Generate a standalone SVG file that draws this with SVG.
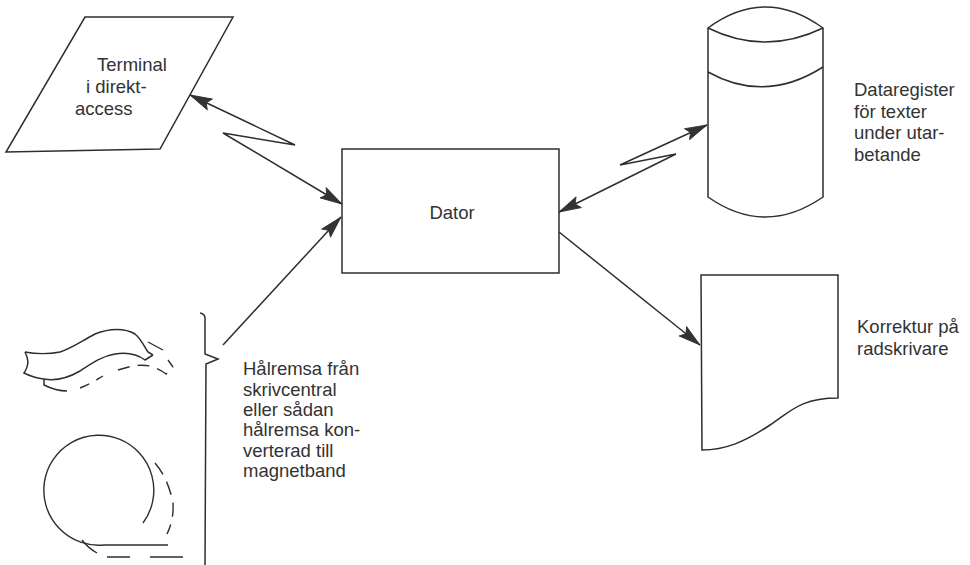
<svg xmlns="http://www.w3.org/2000/svg" width="970" height="565" viewBox="0 0 970 565">
<style>
.s{fill:none;stroke:#2e2e2e;stroke-width:1.5;stroke-linejoin:miter}
.node{fill:#fff;stroke:#2e2e2e;stroke-width:1.5}
.t{font-family:"Liberation Sans",Arial,sans-serif;font-size:18.5px;fill:#333}
.c{fill:none;stroke:#2e2e2e;stroke-width:1.4}
</style>
<defs>
<marker id="ah" markerUnits="userSpaceOnUse" markerWidth="26" markerHeight="14" refX="23" refY="7" orient="auto-start-reverse">
<path d="M1,1 L23,7 L1,13 L5,7 z" fill="#333" stroke="#2e2e2e" stroke-width="0.8"/>
</marker>
</defs>
<rect width="970" height="565" fill="#fff"/>

<g id="terminal">
<polygon class="node" points="85,17 233,17 160,149 6,152"/>
<text class="t" x="97" y="71">Terminal</text>
<text class="t" x="86" y="93">i direkt-</text>
<text class="t" x="75" y="115">access</text>
</g>

<g id="dator">
<rect class="node" x="342" y="149" width="217" height="124"/>
<text class="t" x="452" y="219" text-anchor="middle">Dator</text>
</g>

<g id="dataregister">
<path class="node" d="M708,28 Q765,-14 823,28 L823,197 Q765,237 708,197 Z"/>
<path class="s" d="M708,28 Q765,56 823,28"/>
<path class="s" d="M708,72 Q765,104 823,67"/>
<text class="t" x="854" y="96">Dataregister</text>
<text class="t" x="854" y="117.5">för texter</text>
<text class="t" x="854" y="139">under utar-</text>
<text class="t" x="854" y="160.5">betande</text>
</g>

<g id="korrektur">
<path class="node" d="M701,275 L838,275 L838,398 C800,398 790,412 770,425 C745,442 725,450 702,450 Z"/>
<text class="t" x="857" y="333">Korrektur på</text>
<text class="t" x="857" y="355">radskrivare</text>
</g>

<g id="halremsa">
<path class="s" d="M25,352 C35,354 50,354 60,352 C72,348 80,342 95,334 C110,328 125,328 135,334 C142,340 145,348 148,352 L153,355"/>
<path class="s" d="M25,352 C28,358 30,364 24,373 C30,376 34,378 44,379 C55,381 68,378 80,371 C92,363 102,356 115,354 C127,352 137,354 145,360 L153,355"/>
<path class="s" d="M44,379 L44,385 C52,389 60,391 67,391"/>
<path class="c" stroke-dasharray="10 8" d="M80,388 C90,384 96,380 103,376"/>
<path class="c" stroke-dasharray="12 8" d="M118,370 C130,366 140,364 150,366 C157,368 162,371 166,374 L173,367"/>
<path class="c" d="M148,342 L163,350"/>
<path class="c" d="M168,360 L173,367"/>
<path class="c" d="M143,523 A55,55 0 1 0 104,545 L168,545"/>
<path class="c" d="M82,540 Q88,548 97,553"/>
<path class="c" stroke-dasharray="14 8" d="M155,463 Q168,478 173,503 Q174,520 167,534"/>
<path class="c" d="M107,557 L130,557 M150,557 L183,557"/>
<path class="s" d="M200,313 Q205,314 205,318 L205,354 L218,359 L206,364 L205,565"/>
<text class="t" x="243" y="375">Hålremsa från</text>
<text class="t" x="243" y="395.5">skrivcentral</text>
<text class="t" x="243" y="416">eller sådan</text>
<text class="t" x="243" y="436">hålremsa kon-</text>
<text class="t" x="243" y="456.5">verterad till</text>
<text class="t" x="243" y="477">magnetband</text>
</g>

<g id="connectors">
<path class="s" d="M190,95 L295,145 L223,133 L342,204" marker-start="url(#ah)" marker-end="url(#ah)"/>
<path class="s" d="M223,345 L341,217" marker-end="url(#ah)"/>
<path class="s" d="M707,125 L620,165 L676,154 L559,212" marker-start="url(#ah)" marker-end="url(#ah)"/>
<path class="s" d="M559,232 L700,345" marker-end="url(#ah)"/>
</g>
</svg>
